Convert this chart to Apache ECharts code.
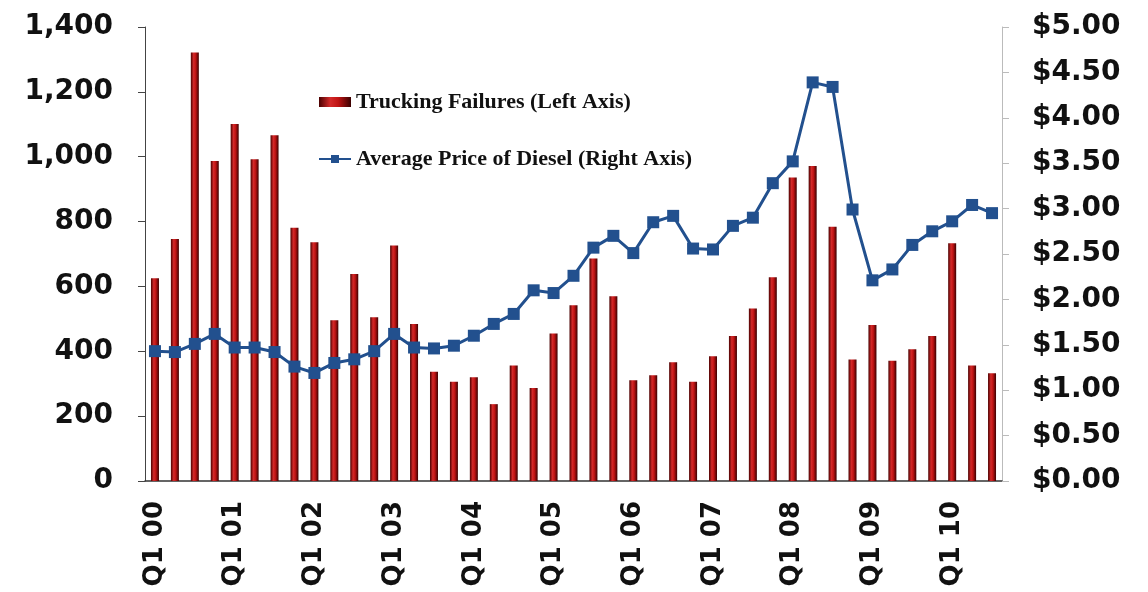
<!DOCTYPE html>
<html><head><meta charset="utf-8">
<script src="https://cdn.jsdelivr.net/npm/echarts@6/dist/echarts.min.js"></script>
<style>html,body{margin:0;padding:0;background:#fff}#c{width:1148px;height:592px}</style>
</head><body><div id="c"></div>
<script>
const categories = (function(){const a=[];for(let y=0;y<=10;y++){for(let q=1;q<=4;q++){if(y===10&&q===4)break;a.push('Q'+q+' '+String(y).padStart(2,'0'));}}return a;})();
const truckingFailures = [625,746,1321,987,1101,992,1066,781,736,496,638,505,726,484,337,
  306,320,237,356,287,455,542,686,570,311,326,366,306,385,
  447,532,628,936,971,784,375,481,371,406,447,733,356,332];
const dieselPrice = [1.43,1.42,1.51,1.62,1.47,1.47,1.42,1.26,1.19,1.30,1.34,1.43,1.62,1.47,1.46,
  1.49,1.60,1.73,1.84,2.10,2.07,2.26,2.57,2.70,2.51,2.85,2.92,2.56,2.55,
  2.81,2.90,3.28,3.52,4.39,4.34,2.99,2.21,2.33,2.60,2.75,2.86,3.04,2.95];
const leftTicks = [0,200,400,600,800,1000,1200,1400];
const rightTicks = [0,0.5,1,1.5,2,2.5,3,3.5,4,4.5,5];

const chart = echarts.init(document.getElementById('c'));
const lblFont = {fontFamily:'DejaVu Sans', fontWeight:'bold', fontSize:28, color:'#111'};
chart.setOption({
  animation:false,
  backgroundColor:'#fff',
  grid:{left:145, right:146, top:27, bottom:111},
  legend:{
    orient:'vertical', left:313, top:86, itemGap:35, itemWidth:32, itemHeight:10,
    textStyle:{fontFamily:'Liberation Serif', fontWeight:'bold', fontSize:22, color:'#111'},
    data:[{name:'Trucking Failures (Left Axis)', icon:'rect'},{name:'Average Price of Diesel (Right Axis)'}]
  },
  xAxis:{
    type:'category', data:categories, boundaryGap:true,
    axisLine:{lineStyle:{color:'#333', width:1.5}},
    axisTick:{interval:0, length:7, lineStyle:{color:'#333'}},
    axisLabel:{rotate:90, margin:20, interval:function(i){return i%4===0;},
      fontFamily:'DejaVu Sans', fontWeight:'bold', fontSize:26, color:'#111'},
    splitLine:{show:false}
  },
  yAxis:[{
    type:'value', min:leftTicks[0], max:leftTicks[leftTicks.length-1], interval:200,
    axisLine:{show:true, lineStyle:{color:'#444', width:1}},
    axisTick:{show:true, length:7, lineStyle:{color:'#444'}},
    splitLine:{show:false},
    axisLabel:Object.assign({margin:32, formatter:function(v){return v.toLocaleString('en-US');}}, lblFont)
  },{
    type:'value', min:rightTicks[0], max:rightTicks[rightTicks.length-1], interval:0.5, position:'right',
    axisLine:{show:true, lineStyle:{color:'#bbb', width:1}},
    axisTick:{show:true, length:7, inside:false, lineStyle:{color:'#bbb'}},
    splitLine:{show:false},
    axisLabel:Object.assign({margin:30, formatter:function(v){return '$'+v.toFixed(2);}}, lblFont)
  }],
  series:[{
    name:'Trucking Failures (Left Axis)', type:'bar', yAxisIndex:0, data:truckingFailures, barWidth:8,
    itemStyle:{color:new echarts.graphic.LinearGradient(0,0,1,0,[
      {offset:0,color:'#4a0000'},{offset:0.35,color:'#d42a2a'},{offset:0.6,color:'#c01414'},{offset:1,color:'#3a0000'}])}
  },{
    name:'Average Price of Diesel (Right Axis)', type:'line', yAxisIndex:1, data:dieselPrice,
    symbol:'rect', symbolSize:12, lineStyle:{color:'#22508e', width:3},
    itemStyle:{color:'#22508e'}
  }]
});
</script></body></html>
